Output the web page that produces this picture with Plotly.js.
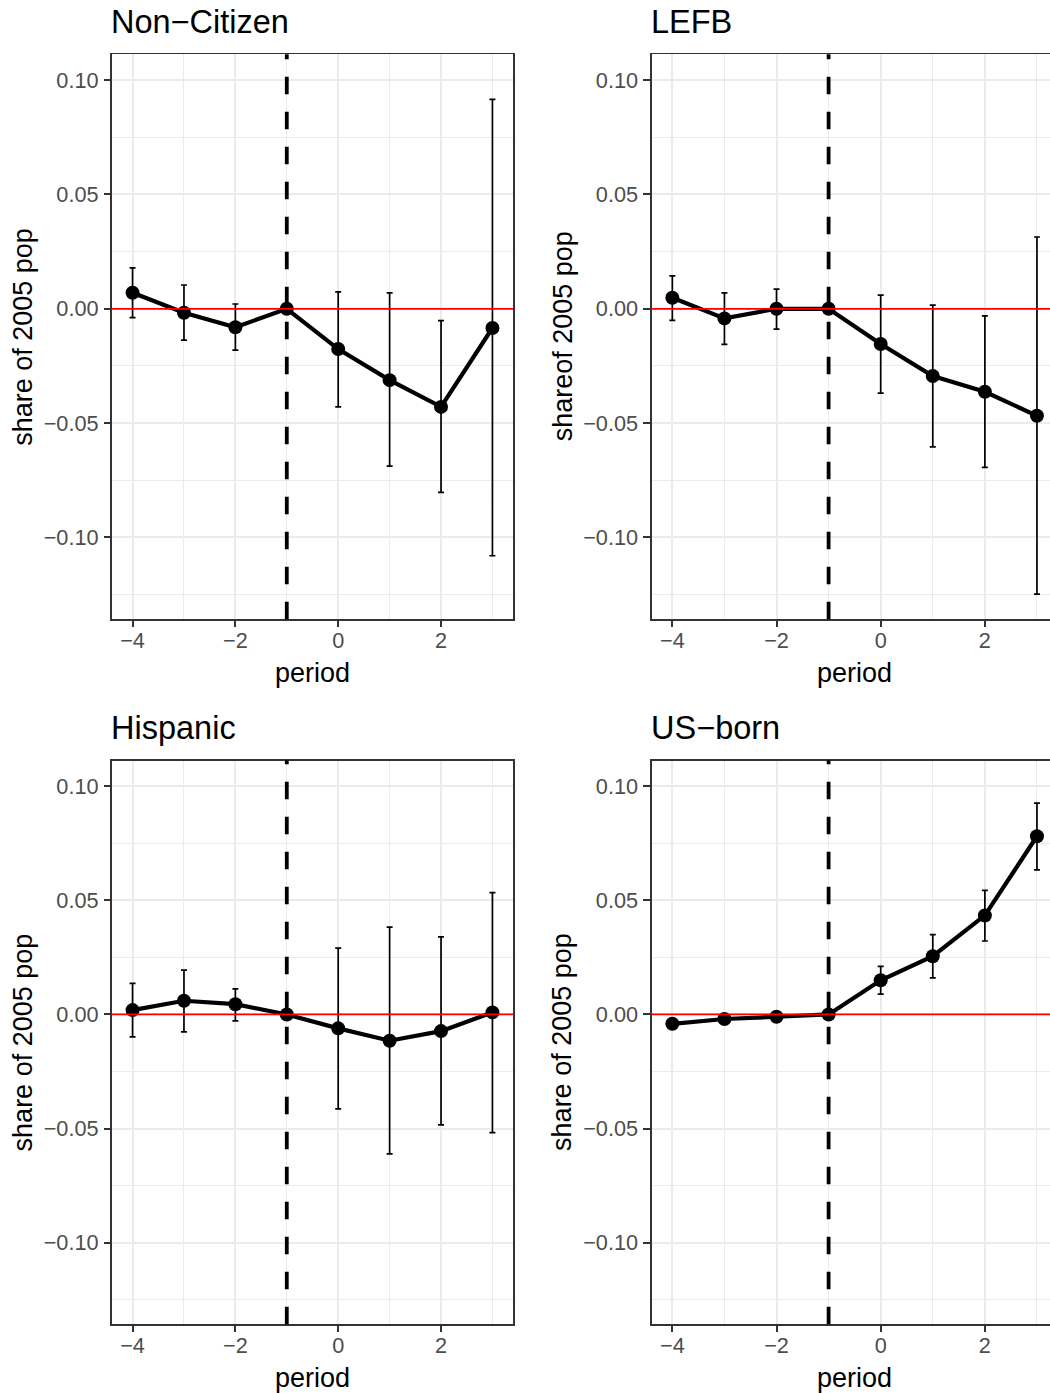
<!DOCTYPE html>
<html>
<head>
<meta charset="utf-8">
<script src="https://cdn.plot.ly/plotly-3.0.1.min.js"></script>
<style>
html,body{margin:0;padding:0;background:#fff;overflow:hidden;width:1050px;height:1393px;}
#chart{width:1060px;height:1393px;}
</style>
</head>
<body>
<div id="chart"></div>
<script>
// ---- data ----
const periods = [-4, -3, -2, -1, 0, 1, 2, 3];

const panelTitles = ["Non\u2212Citizen", "LEFB", "Hispanic", "US\u2212born"];
const yTitles = ["share of 2005 pop", "shareof 2005 pop", "share of 2005 pop", "share of 2005 pop"];
const xTitle = "period";

const nonCitizenEst = [0.0070, -0.0017, -0.0081, 0, -0.0176, -0.0312, -0.0429, -0.0084];
const nonCitizenLo  = [-0.0039, -0.0137, -0.0181, 0, -0.0429, -0.0688, -0.0803, -0.1080];
const nonCitizenHi  = [0.0179, 0.0104, 0.0021, 0, 0.0074, 0.0070, -0.0052, 0.0916];

const lefbEst = [0.0048, -0.0042, 0.0000, 0, -0.0154, -0.0294, -0.0363, -0.0468];
const lefbLo  = [-0.0051, -0.0156, -0.0089, 0, -0.0369, -0.0604, -0.0694, -0.1248];
const lefbHi  = [0.0144, 0.0070, 0.0086, 0, 0.0060, 0.0016, -0.0031, 0.0314];

const hispanicEst = [0.0019, 0.0060, 0.0045, 0, -0.0061, -0.0115, -0.0073, 0.0009];
const hispanicLo  = [-0.0098, -0.0076, -0.0028, 0, -0.0414, -0.0611, -0.0484, -0.0518];
const hispanicHi  = [0.0136, 0.0194, 0.0112, 0, 0.0291, 0.0383, 0.0340, 0.0534];

const usBornEst = [-0.0041, -0.0020, -0.0010, 0, 0.0150, 0.0255, 0.0434, 0.0781];
const usBornLo  = [-0.0052, -0.0028, -0.0016, 0, 0.0089, 0.0160, 0.0322, 0.0634];
const usBornHi  = [-0.0030, -0.0012, -0.0004, 0, 0.0211, 0.0350, 0.0544, 0.0926];

const xTickVals = [-4, -2, 0, 2];
const xTickText = ["\u22124", "\u22122", "0", "2"];
const yTickVals = [-0.10, -0.05, 0.00, 0.05, 0.10];
const yTickText = ["\u22120.10", "\u22120.05", "0.00", "0.05", "0.10"];
const treatPeriod = -1;
const refLine = 0;

// ---- layout geometry (pixels) ----
const W = 1060, H = 1393;
const FONT = "Liberation Sans, Arial, Helvetica, sans-serif";
const panels = [
  {est: nonCitizenEst, lo: nonCitizenLo, hi: nonCitizenHi, x0: 112,   x1: 513,    y0: 54.3,  y1: 619.3},
  {est: lefbEst,       lo: lefbLo,       hi: lefbHi,       x0: 651.5, x1: 1057.8, y0: 54.3,  y1: 619.3},
  {est: hispanicEst,   lo: hispanicLo,   hi: hispanicHi,   x0: 112,   x1: 513,    y0: 760.5, y1: 1324.3},
  {est: usBornEst,     lo: usBornLo,     hi: usBornHi,     x0: 651.5, x1: 1057.8, y0: 760.5, y1: 1324.3}
];

const traces = [];
const layout = {
  width: W, height: H,
  margin: {l: 0, r: 0, t: 0, b: 0},
  paper_bgcolor: "#ffffff",
  plot_bgcolor: "#ffffff",
  showlegend: false,
  font: {family: FONT, color: "#000000"},
  shapes: [],
  annotations: []
};

panels.forEach((p, i) => {
  const n = i + 1;
  const xa = n === 1 ? "x" : "x" + n;
  const ya = n === 1 ? "y" : "y" + n;
  traces.push({
    type: "scatter",
    mode: "lines+markers",
    x: periods,
    y: p.est,
    xaxis: xa, yaxis: ya,
    line: {color: "#000000", width: 4.2},
    marker: {color: "#000000", size: 14},
    error_y: {
      type: "data", symmetric: false,
      array: p.hi.map((h, k) => h - p.est[k]),
      arrayminus: p.lo.map((l, k) => p.est[k] - l),
      color: "#000000", thickness: 1.7, width: 3
    },
    hoverinfo: "skip"
  });

  const axCommon = {
    showline: true, mirror: true, linecolor: "#333333", linewidth: 1.6,
    ticks: "outside", ticklen: 6.5, tickwidth: 2, tickcolor: "#333333",
    tickfont: {family: FONT, size: 21.7, color: "#4D4D4D"},
    showgrid: true, gridcolor: "#EBEBEB", gridwidth: 2,
    zeroline: false, fixedrange: true
  };
  layout["xaxis" + (n === 1 ? "" : n)] = Object.assign({}, axCommon, {
    domain: [p.x0 / W, p.x1 / W],
    anchor: ya,
    range: [-4.4, 3.4],
    tickmode: "array", tickvals: xTickVals, ticktext: xTickText,
    minor: {dtick: 1, tick0: 0, showgrid: true, gridcolor: "#EBEBEB", gridwidth: 1, ticks: ""},
    ticklabelstandoff: -5
  });
  layout["yaxis" + (n === 1 ? "" : n)] = Object.assign({}, axCommon, {
    domain: [1 - p.y1 / H, 1 - p.y0 / H],
    anchor: xa,
    range: [-0.1358, 0.1113],
    tickmode: "array", tickvals: yTickVals, ticktext: yTickText,
    minor: {dtick: 0.025, tick0: 0, showgrid: true, gridcolor: "#EBEBEB", gridwidth: 1, ticks: ""},
    ticklabelstandoff: 1
  });

  // reference lines
  layout.shapes.push({
    type: "line", xref: xa + " domain", yref: ya,
    x0: 0, x1: 1, y0: refLine, y1: refLine,
    line: {color: "#FF0000", width: 1.7}, layer: "above"
  });
  layout.shapes.push({
    type: "line", xref: xa, yref: ya + " domain",
    x0: treatPeriod, x1: treatPeriod, y0: 0, y1: 1,
    line: {color: "#000000", width: 3.8, dash: "17.5px,17.5px"}, layer: "above"
  });

  // panel title
  layout.annotations.push({
    xref: "paper", yref: "paper",
    x: (p.x0 - 1) / W, y: 1 - (p.y0 - 32.5) / H,
    xanchor: "left", yanchor: "middle",
    text: panelTitles[i], showarrow: false,
    font: {family: FONT, size: 32.5, color: "#000000"},
    borderpad: 0, borderwidth: 0
  });
  // x axis title
  layout.annotations.push({
    xref: "paper", yref: "paper",
    x: ((p.x0 + p.x1) / 2) / W, y: 1 - (p.y1 + 53.5) / H,
    xanchor: "center", yanchor: "middle",
    text: xTitle, showarrow: false,
    font: {family: FONT, size: 27, color: "#000000"},
    borderpad: 0, borderwidth: 0
  });
  // y axis title
  layout.annotations.push({
    xref: "paper", yref: "paper",
    x: (p.x0 - 89) / W, y: 1 - ((p.y0 + p.y1) / 2) / H,
    xanchor: "center", yanchor: "middle",
    text: yTitles[i], showarrow: false, textangle: -90,
    font: {family: FONT, size: 27, color: "#000000"},
    borderpad: 0, borderwidth: 0
  });
});

Plotly.newPlot("chart", traces, layout, {displayModeBar: false, staticPlot: true});
</script>
</body>
</html>
